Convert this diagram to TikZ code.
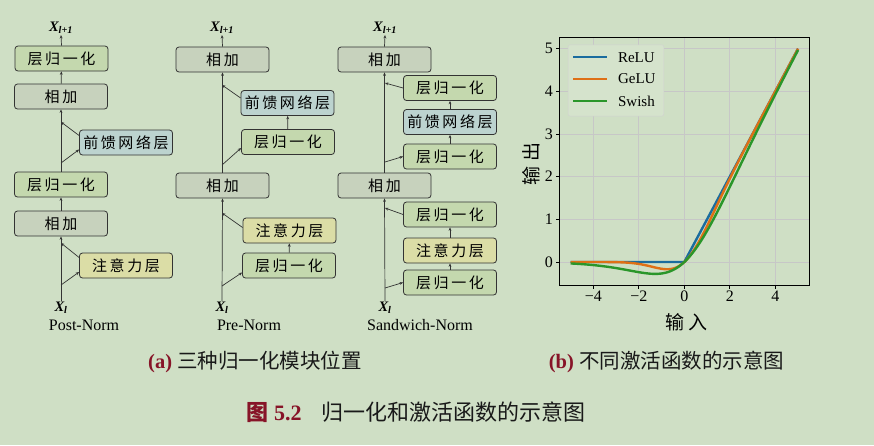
\documentclass[tikz,border=0pt]{standalone}
\usepackage{fontspec}
\setmainfont{Liberation Serif}
\newfontfamily\cjk{Noto Sans CJK SC}
\newfontfamily\cjkbox[LetterSpace=17]{Noto Sans CJK SC}
\newfontfamily\cjkwide[LetterSpace=25]{Noto Sans CJK SC}
\usepackage{xcolor}
\usepackage{tikz}
\usetikzlibrary{arrows.meta}

\definecolor{bgcol}{RGB}{207,223,197}
\definecolor{lncol}{RGB}{196,216,174}
\definecolor{addcol}{RGB}{199,210,189}
\definecolor{ffncol}{RGB}{188,211,207}
\definecolor{attcol}{RGB}{219,221,166}
\definecolor{capred}{RGB}{135,20,40}
\definecolor{relucol}{RGB}{26,108,158}
\definecolor{gelucol}{RGB}{222,112,22}
\definecolor{swishcol}{RGB}{42,150,42}

\begin{document}
\begin{tikzpicture}[x=10pt, y=10pt,
    blk/.style={draw=black!80, line width=0.8pt, rounded corners=3pt,
                minimum width=93pt, minimum height=25pt, inner sep=0pt,
                font=\cjkbox\fontsize{15}{16}\selectfont},
    ln/.style={blk, fill=lncol},
    add/.style={blk, fill=addcol},
    ffn/.style={blk, fill=ffncol},
    att/.style={blk, fill=attcol},
    arr/.style={-{Stealth[length=3.4pt,width=2.8pt]}, draw=black!80, line width=0.7pt},
    xl/.style={inner sep=1pt, font=\fontsize{14.5}{14}\selectfont\bfseries\itshape},
    nm/.style={font=\fontsize{16}{16}\selectfont},
    captx/.style={font=\fontsize{20.5}{21}\selectfont, text=black!90},
    grd/.style={draw=black!22, line width=0.8pt},
    tk/.style={font=\fontsize{16}{16}\selectfont}]
  \path[use as bounding box, fill=bgcol] (0,0) rectangle (87.4,-44.5);

  % Post-Norm
  \node[xl]  (poXo)  at (6.1,-2.8)   {X\textsubscript{l+1}};
  \node[ln]  (poln2) at (6.15,-5.85) {层归一化};
  \node[add] (poadd2) at (6.1,-9.65) {相加};
  \node[ffn] (poffn) at (12.6,-14.25) {前馈网络层};
  \node[ln]  (poln1) at (6.1,-18.45) {层归一化};
  \node[add] (poadd1) at (6.1,-22.35) {相加};
  \node[att] (poatt) at (12.6,-26.55) {注意力层};
  \node[xl]  (poXi)  at (6.1,-30.8)  {X\textsubscript{l}};
  \node[nm]  (ponm)  at (8.4,-32.5)  {Post-Norm};
  \coordinate (pob1) at (6.1,-28.5);
  \coordinate (pob2) at (6.1,-24.3);
  \coordinate (pob3) at (6.1,-16.3);
  \coordinate (pob4) at (6.1,-12.2);
  \draw[arr] (poXi.north) -- (poadd1.south);
  \draw[arr] (poadd1) -- (poln1);
  \draw[arr] (poln1) -- (poadd2);
  \draw[arr] (poadd2) -- (poln2);
  \draw[arr] (poln2.north) -- (poXo.south);
  \draw[arr] (pob1) -- ([yshift=-6.5pt]poatt.west);
  \draw[arr] ([yshift=8pt]poatt.west) -- (pob2);
  \draw[arr] (pob3) -- ([yshift=-7pt]poffn.west);
  \draw[arr] ([yshift=7pt]poffn.west) -- (pob4);

  % Pre-Norm
  \node[xl]  (prXo)  at (22.2,-2.8)   {X\textsubscript{l+1}};
  \node[add] (pradd2) at (22.25,-5.95) {相加};
  \node[ffn] (prffn) at (28.75,-10.3) {前馈网络层};
  \node[ln]  (prln2) at (28.8,-14.2)  {层归一化};
  \node[add] (pradd1) at (22.25,-18.55) {相加};
  \node[att] (pratt) at (28.95,-23.05) {注意力层};
  \node[ln]  (prln1) at (28.9,-26.55) {层归一化};
  \node[xl]  (prXi)  at (22.2,-30.8)  {X\textsubscript{l}};
  \node[nm]  (prnm)  at (24.9,-32.5)  {Pre-Norm};
  \coordinate (prb1) at (22.2,-28.6);
  \coordinate (prb2) at (22.2,-21.3);
  \coordinate (prb3) at (22.2,-16.5);
  \coordinate (prb4) at (22.2,-8.5);
  \draw[arr] (prXi.north) -- (pradd1.south);
  \draw[arr] (pradd1) -- (pradd2);
  \draw[arr] (pradd2.north) -- (prXo.south);
  \draw[arr] (prln1) -- (pratt);
  \draw[arr] (prln2) -- (prffn);
  \draw[arr] (prb1) -- ([yshift=-7pt]prln1.west);
  \draw[arr] ([yshift=3pt]pratt.west) -- (prb2);
  \draw[arr] (prb3) -- ([yshift=-6pt]prln2.west);
  \draw[arr] ([yshift=5pt]prffn.west) -- (prb4);

  % Sandwich-Norm
  \node[xl]  (swXo)  at (38.5,-2.8)   {X\textsubscript{l+1}};
  \node[add] (swadd2) at (38.45,-5.95) {相加};
  \node[ln]  (swln4) at (45.0,-8.8)   {层归一化};
  \node[ffn] (swffn) at (45.0,-12.2)  {前馈网络层};
  \node[ln]  (swln3) at (45.0,-15.65) {层归一化};
  \node[add] (swadd1) at (38.45,-18.55) {相加};
  \node[ln]  (swln2) at (45.0,-21.45) {层归一化};
  \node[att] (swatt) at (45.0,-25.05) {注意力层};
  \node[ln]  (swln1) at (45.0,-28.25) {层归一化};
  \node[xl]  (swXi)  at (38.5,-30.8)  {X\textsubscript{l}};
  \node[nm]  (swnm)  at (42.0,-32.5)  {Sandwich-Norm};
  \coordinate (swb1) at (38.5,-28.8);
  \coordinate (swb2) at (38.5,-20.8);
  \coordinate (swb3) at (38.5,-16.2);
  \coordinate (swb4) at (38.5,-8.3);
  \draw[arr] (swXi.north) -- (swadd1.south);
  \draw[arr] (swadd1) -- (swadd2);
  \draw[arr] (swadd2.north) -- (swXo.south);
  \draw[arr] (swln1) -- (swatt);
  \draw[arr] (swatt) -- (swln2);
  \draw[arr] (swln3) -- (swffn);
  \draw[arr] (swffn) -- (swln4);
  \draw[arr] (swb1) -- (swln1.west);
  \draw[arr] (swln2.west) -- (swb2);
  \draw[arr] (swb3) -- (swln3.west);
  \draw[arr] (swln4.west) -- (swb4);

  % activation plot
  \begin{scope}[shift={(68.43,-26.2)}, x=22.75pt, y=42.67pt]
    \foreach \v in {-4,-2,...,4} \draw[grd] (\v,-0.542) -- (\v,5.264);
    \foreach \v in {0,...,5} \draw[grd] (-5.5,\v) -- (5.5,\v);
    \foreach \v/\t in {-4/−4,-2/−2,0/0,2/2,4/4}{
      \draw[line width=0.8pt] (\v,-0.542) -- ++(0,-3.5pt);
      \node[tk, anchor=north, inner sep=2pt] (xt\v) at ([yshift=-4pt]\v,-0.542) {\t};}
    \foreach \v in {0,...,5}{
      \draw[line width=0.8pt] (-5.5,\v) -- ++(-3.5pt,0);
      \node[tk, anchor=east, inner sep=2pt] (yt\v) at ([xshift=-4pt]-5.5,\v) {\v};}
    \draw[relucol, line width=2.4pt, line join=round] (-5,0) -- (0,0) -- (5,5);
    \draw[gelucol, line width=2.4pt, line join=round] plot[domain=-5:5, samples=120, smooth]
      (\x,{0.5*\x*(1+tanh(0.7978846*(\x+0.044715*\x*\x*\x)))});
    \draw[swishcol, line width=2.4pt, line join=round] plot[domain=-5:5, samples=120, smooth]
      (\x,{\x/(1+exp(-\x))});
    \draw[line width=0.8pt] (-5.5,-0.542) rectangle (5.5,5.264);
    % legend
    \draw[draw=black!18, fill=white!12!bgcol, rounded corners=2pt] (-5.11,3.42) rectangle (-0.9,5.09);
    \foreach \c/\t/\y in {relucol/ReLU/4.80, gelucol/GeLU/4.29, swishcol/Swish/3.77}{
      \draw[\c, line width=2.4pt] (-4.89,\y) -- (-3.40,\y);
      \node[anchor=west, inner sep=0pt, font=\fontsize{15}{15}\selectfont] (lg\t) at (-2.92,\y) {\t};}
    \node[font=\cjkwide\fontsize{19}{19}\selectfont] (xlab) at (0.1,-1.42) {输入};
    \node[font=\cjkwide\fontsize{19}{19}\selectfont, rotate=90] (ylab) at (-6.75,2.3) {输出};
  \end{scope}

  % captions
  \node[captx] (capa) at (25.5,-36.2) {\textbf{\color{capred}(a)} {\cjk 三种归一化模块位置}};
  \node[captx] (capb) at (66.65,-36.2) {\textbf{\color{capred}(b)} {\cjk 不同激活函数的示意图}};
  \node[captx, font=\fontsize{22}{22}\selectfont] (capf) at (41.6,-41.2)
    {\textcolor{capred}{{\cjk\bfseries 图} \textbf{5.2}}\hspace{0.9em}{\cjk 归一化和激活函数的示意图}};
\end{tikzpicture}
\end{document}
